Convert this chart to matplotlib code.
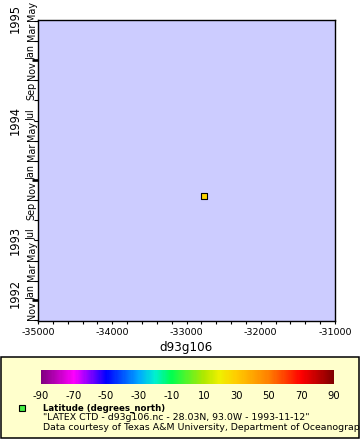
import datetime as dt
import matplotlib
matplotlib.use("Agg")
import matplotlib.pyplot as plt
import matplotlib.dates as mdates
import matplotlib.ticker as mticker
from matplotlib.colors import LinearSegmentedColormap
from matplotlib.patches import Rectangle
from matplotlib.transforms import blended_transform_factory

plt.rcParams["axes.unicode_minus"] = False

# ---------------- data ----------------
station_x = [-32765]
station_time = ["1993-11-12"]
station_lat = [28.03]

x_limits = [-35000, -31000]
x_major_step = 1000
x_minor_step = 200
x_label = "d93g106"

time_limits = ["1992-10-29", "1995-05-03"]
year_labels = ["1992", "1993", "1994", "1995"]
year_label_times = ["1993-01-20", "1993-07-02", "1994-07-02", "1995-05-08"]

cbar_range = [-90, 90]
cbar_ticks = [-90, -70, -50, -30, -10, 10, 30, 50, 70, 90]
palette_stops = [-90, -70, -50, -30, -20, -10, 10, 20, 30, 50, 70, 90]
palette_colors = ["#800080", "#ff00ff", "#0000ff", "#00a8ff", "#00f0d0", "#00ff50",
                  "#b0e800", "#f0f000", "#ffcc00", "#ff8000", "#ff0000", "#800000"]

legend_title = "Latitude (degrees_north)"
legend_lines = ['"LATEX CTD - d93g106.nc - 28.03N, 93.0W - 1993-11-12"',
                "Data courtesy of Texas A&M University, Department of Oceanography"]

# ---------------- figure ----------------
W, H = 360, 440
fig = plt.figure(figsize=(W / 100, H / 100), dpi=100)
fig.patch.set_facecolor("white")

def fx(px):
    return px / W

def fy(py):
    return 1 - py / H

ax = fig.add_axes([fx(38), fy(321), fx(335) - fx(38), fy(20) - fy(321)])
ax.set_facecolor("#ccccff")
for s in ax.spines.values():
    s.set_linewidth(1.0)
    s.set_color("black")

stops = [(v - cbar_range[0]) / (cbar_range[1] - cbar_range[0]) for v in palette_stops]
cmap = LinearSegmentedColormap.from_list("rainbow_erddap", list(zip(stops, palette_colors)))

times = [mdates.date2num(dt.datetime.fromisoformat(t)) for t in station_time]
ax.scatter(station_x, times, c=station_lat, cmap=cmap, vmin=cbar_range[0], vmax=cbar_range[1],
           marker="s", s=16, edgecolors="black", linewidths=0.8, zorder=3)

ax.set_xlim(x_limits)
ax.set_ylim([mdates.date2num(dt.datetime.fromisoformat(t)) for t in time_limits])

# x axis
ax.xaxis.set_major_locator(mticker.MultipleLocator(x_major_step))
ax.xaxis.set_minor_locator(mticker.MultipleLocator(x_minor_step))
ax.tick_params(axis="x", which="both", direction="out", length=2.3, width=0.8,
               labelsize=6.8, pad=2.6, top=False)
ax.set_xlabel(x_label, fontsize=8.6)
ax.xaxis.set_label_coords(0.5, -27 / 301)
ax.xaxis.label.set_va("center")

# y axis: month ticks + thick year ticks
ax.yaxis.remove_overlapping_locs = False
ax.yaxis.set_major_locator(mdates.MonthLocator(bymonth=(1, 3, 5, 7, 9, 11)))
ax.yaxis.set_minor_locator(mdates.YearLocator())
ax.yaxis.set_major_formatter(mticker.NullFormatter())
ax.tick_params(axis="y", which="major", direction="out", length=2.9, width=0.8, right=False)
ax.tick_params(axis="y", which="minor", direction="out", length=4.3, width=1.9, right=False)

trans = blended_transform_factory(ax.transAxes, ax.transData)
for loc in ax.yaxis.get_major_locator()():
    ax.text(-1.5 / 297, loc, mdates.num2date(loc).strftime("%b"), transform=trans,
            rotation=90, rotation_mode="anchor", ha="left", va="bottom", fontsize=6.9)
for lab, t in zip(year_labels, year_label_times):
    ax.text(-23 / 297, mdates.date2num(dt.datetime.fromisoformat(t)), lab, transform=trans,
            rotation=90, ha="center", va="center", fontsize=8.3)

# ---------------- legend box ----------------
fig.add_artist(Rectangle((fx(1), fy(438)), fx(359) - fx(1), fy(357) - fy(438),
                         transform=fig.transFigure, facecolor="#ffffcc", edgecolor="black",
                         linewidth=1.1, zorder=0))

cax = fig.add_axes([fx(41), fy(384), fx(334) - fx(41), fy(370) - fy(384)])
sm = matplotlib.cm.ScalarMappable(norm=matplotlib.colors.Normalize(*cbar_range), cmap=cmap)
cb = fig.colorbar(sm, cax=cax, orientation="horizontal", ticks=cbar_ticks)
cb.outline.set_visible(False)
cax.tick_params(length=0, labelsize=7.2, pad=5)

fig.add_artist(Rectangle((fx(19), fy(411)), fx(6), fy(405) - fy(411), transform=fig.transFigure,
                         facecolor="#44ee44", edgecolor="black", linewidth=0.8))
fig.text(fx(43), fy(408), legend_title, fontsize=6.2, fontweight="bold", va="center", ha="left")
fig.text(fx(43), fy(417.5), legend_lines[0], fontsize=6.75, va="center", ha="left")
fig.text(fx(43), fy(427), legend_lines[1], fontsize=6.75, va="center", ha="left")

fig.savefig("out.png", dpi=100)
